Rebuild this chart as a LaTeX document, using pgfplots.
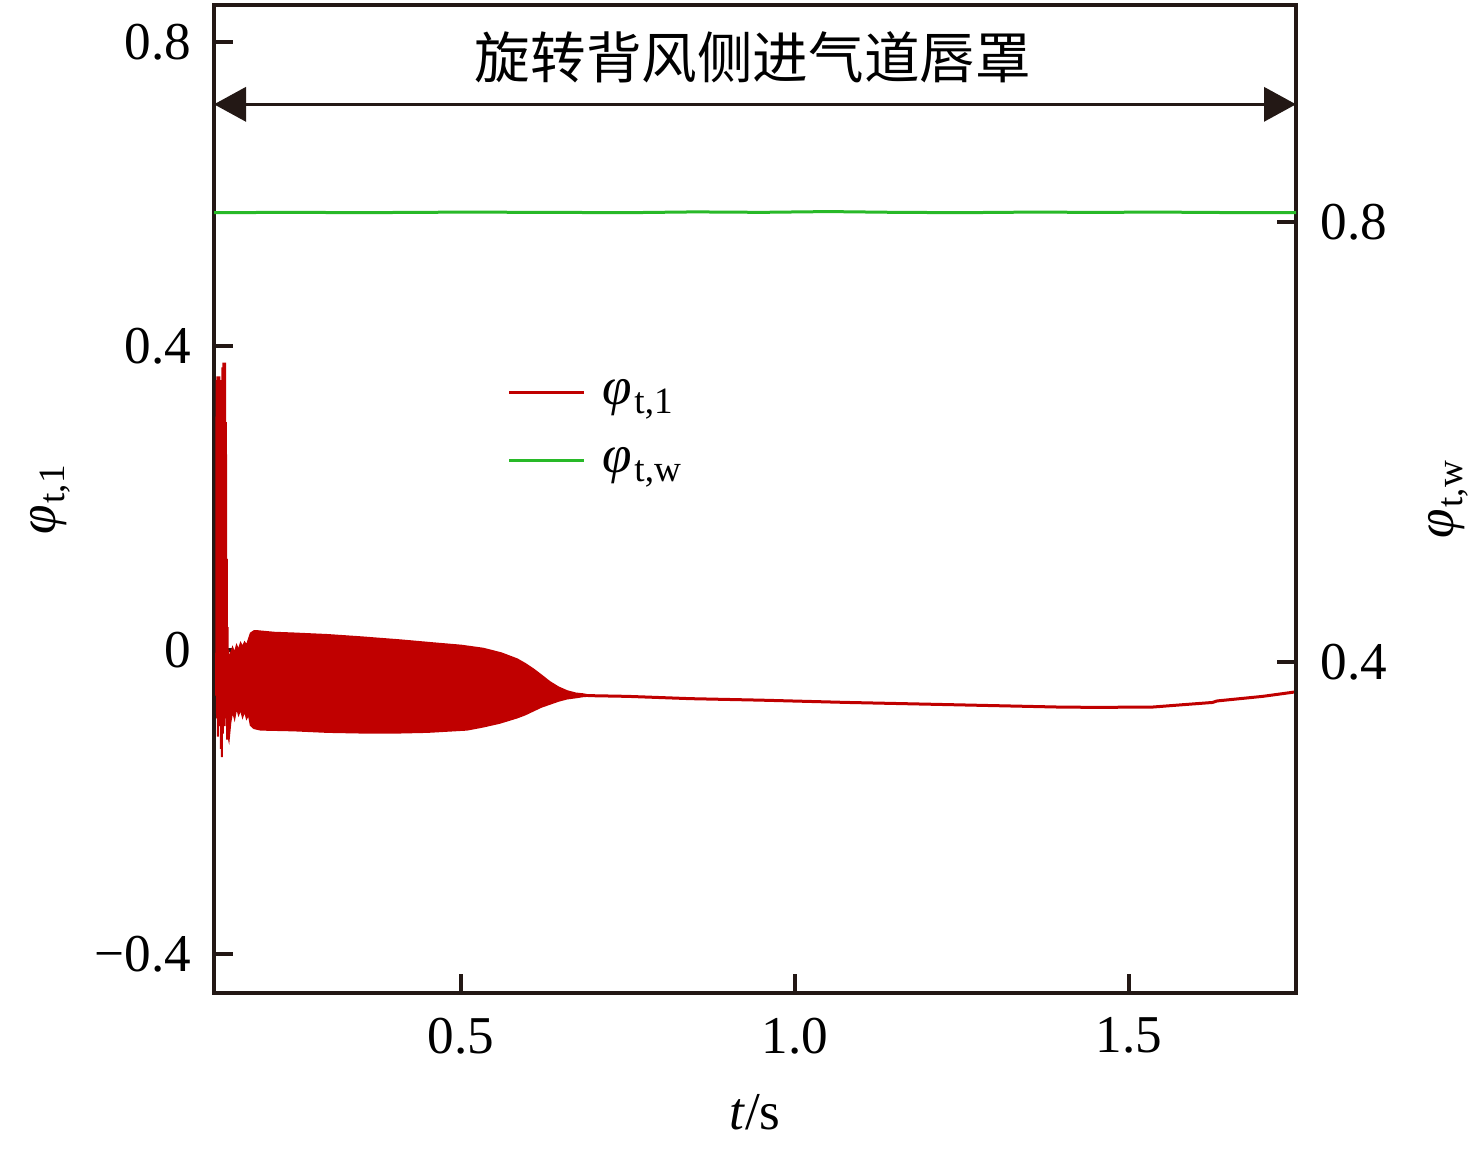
\documentclass[border=0pt]{standalone}
\usepackage{fontspec}
\setmainfont{Liberation Serif}
\newfontfamily\cjk{Noto Sans CJK SC}
\usepackage{pgfplots}
\pgfplotsset{compat=1.18}
\usetikzlibrary{arrows.meta}
\definecolor{cred}{RGB}{192,0,0}
\definecolor{cgreen}{RGB}{40,185,40}
\definecolor{cax}{RGB}{35,24,21}
\newcommand{\fs}{\fontsize{13.3}{15}\selectfont}
\newcommand{\phis}[1]{\textit{φ}\kern0.5pt\textsubscript{\fontsize{9.3}{10}\selectfont #1}}
\begin{document}
\begin{tikzpicture}
\pgfplotsset{
  common/.style={
    at={(0,0)}, anchor=south west,
    scale only axis, width=270.5pt, height=247pt,
    xmin=0.1302, xmax=1.75,
    axis line style={cax, line width=0.9pt},
    tick style={cax, line width=0.9pt},
    major tick length=4.75pt,
    tick align=inside,
    tick label style={font=\fs, text=black},
    label style={font=\fs},
  }
}
\begin{axis}[common,
  name=ax,
  ymin=-0.4513, ymax=0.8487,
  xtick={0.5,1.0,1.5}, xticklabels={0.5,1.0,1.5},
  ytick={-0.4,0,0.4,0.8}, yticklabels={−0.4,0,0.4,0.8},
  xtick pos=bottom, ytick pos=left,
  xticklabel style={inner sep=0pt, anchor=north, yshift=-6pt},
  yticklabel style={inner sep=0pt, anchor=east, xshift=-5.5pt},
  xlabel={\textit{t}/s},
  xlabel style={at={(axis description cs:0.5,0)}, anchor=center, yshift=-29.75pt},
  ylabel={\phis{t,1}},
  ylabel style={at={(axis description cs:0,0.5)}, anchor=center, yshift=41pt},
  legend image code/.code={\draw[#1] (0pt,0pt) -- (18.75pt,0pt);},
  legend cell align=left,
  legend style={at={(axis description cs:0.2717,0.642)}, anchor=north west,
    draw=none, fill=none, inner sep=0pt, outer sep=0pt, row sep=0pt,
    font=\fs,
    nodes={text height=10pt, text depth=4pt, inner sep=1.5pt},
    /tikz/every odd column/.append style={column sep=2.75pt}},
]
% initial spike
\addplot[cred, line width=0.5pt, forget plot] coordinates {
(0.1335,-0.06)(0.1340,0.355)(0.1347,-0.09)(0.1354,0.360)(0.1360,-0.114)
(0.1367,0.355)(0.1375,-0.09)(0.1382,0.360)(0.1390,-0.10)(0.1397,0.355)
(0.1405,-0.13)(0.1412,0.350)(0.1420,-0.141)(0.1427,0.372)(0.1434,-0.11)
(0.1441,0.378)(0.1448,-0.10)(0.1455,0.365)(0.1462,-0.09)(0.1469,0.378)
(0.1475,-0.08)(0.1481,0.30)(0.1487,-0.10)(0.1493,0.12)(0.1499,-0.118)
(0.1505,0.03)(0.1511,-0.11)(0.1517,0.0)
};
% dense oscillation band (envelope)
\addplot[cred, fill=cred, line width=0.4pt, forget plot] coordinates {
(0.1505,-0.010)(0.155,-0.005)(0.158,0.003)(0.161,-0.004)(0.164,0.006)
(0.167,0.000)(0.170,0.009)(0.173,0.004)(0.176,0.010)(0.179,0.006)
(0.182,0.014)(0.185,0.022)(0.190,0.025)(0.196,0.025)(0.22,0.023)
(0.25,0.022)(0.30,0.020)(0.35,0.017)(0.409,0.013)(0.46,0.009)
(0.50,0.006)(0.533,0.002)(0.56,-0.004)(0.584,-0.012)(0.596,-0.018)
(0.608,-0.025)(0.62,-0.033)(0.633,-0.042)(0.646,-0.049)(0.659,-0.054)
(0.672,-0.057)(0.683,-0.058)(0.692,-0.0595)
(0.692,-0.0605)(0.683,-0.061)(0.672,-0.0625)(0.659,-0.064)(0.646,-0.067)
(0.633,-0.071)(0.62,-0.075)(0.608,-0.080)(0.596,-0.085)(0.584,-0.089)
(0.558,-0.096)(0.533,-0.101)(0.509,-0.105)(0.45,-0.108)(0.40,-0.109)
(0.359,-0.109)(0.30,-0.108)(0.25,-0.106)(0.20,-0.105)(0.190,-0.103)
(0.185,-0.099)(0.182,-0.085)(0.179,-0.090)(0.176,-0.080)(0.173,-0.088)
(0.170,-0.078)(0.167,-0.085)(0.164,-0.075)(0.161,-0.090)(0.158,-0.080)
(0.155,-0.095)(0.1525,-0.118)(0.1505,-0.110)
} -- cycle;
% settled signal
\addplot[cred, line width=0.75pt, forget plot] coordinates {
(0.69,-0.060)(0.75,-0.061)(0.843,-0.064)(0.95,-0.066)(1.079,-0.069)
(1.237,-0.072)(1.392,-0.075)(1.45,-0.0755)(1.536,-0.075)(1.58,-0.072)
(1.625,-0.069)(1.632,-0.067)(1.70,-0.061)(1.75,-0.055)
};
\addlegendimage{cred, line width=0.75pt}
\addlegendentry{\phis{t,1}}
\addlegendimage{cgreen, line width=0.75pt}
\addlegendentry{\phis{t,w}}
\draw[cax, line width=0.9pt, {Triangle[length=8pt,width=8.5pt]}-{Triangle[length=8pt,width=8.5pt]}]
  (axis cs:0.1302,0.718) -- (axis cs:1.75,0.718);
\node[font=\cjk\fontsize{13.9}{15}\selectfont, anchor=center] at (axis cs:0.937,0.780) {旋转背风侧进气道唇罩};
\end{axis}
\begin{axis}[common,
  ymin=0.0991, ymax=0.9973,
  axis x line=none,
  axis y line*=right,
  ytick={0.4,0.8}, yticklabels={0.4,0.8},
  ytick pos=right,
  yticklabel style={inner sep=0pt, anchor=west, xshift=6pt},
  ylabel={\phis{t,w}},
  ylabel style={at={(axis description cs:1,0.5)}, anchor=center, yshift=-38pt},
]
\addplot[cgreen, line width=0.75pt] coordinates {
(0.1302,0.8085)(0.25,0.8088)(0.35,0.8085)(0.5,0.8090)(0.62,0.8088)
(0.75,0.8085)(0.85,0.8092)(0.95,0.8088)(1.05,0.8095)(1.15,0.8088)
(1.25,0.8085)(1.35,0.8090)(1.45,0.8088)(1.55,0.8090)(1.65,0.8086)(1.75,0.8085)
};
\end{axis}
\pgfresetboundingbox
\path[use as bounding box] (-53.5pt,-38.75pt) rectangle (315.5pt,248.25pt);
\end{tikzpicture}
\end{document}
